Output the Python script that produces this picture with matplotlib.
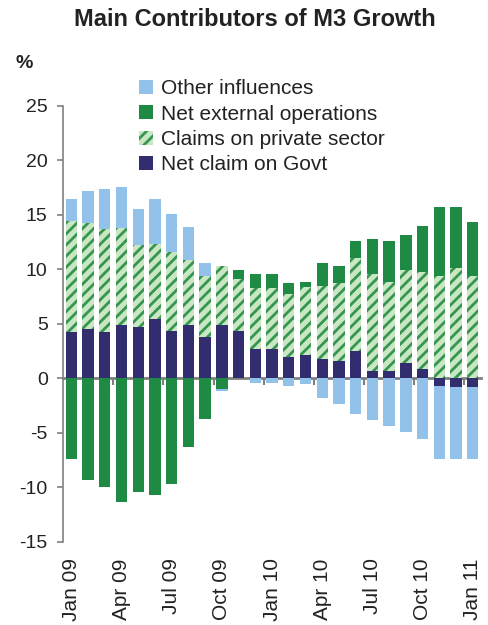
import numpy as np
import matplotlib
matplotlib.use("Agg")
import matplotlib.pyplot as plt

plt.rcParams['font.family'] = ['Liberation Sans', 'DejaVu Sans']
plt.rcParams['hatch.linewidth'] = 2.0
plt.rcParams['axes.unicode_minus'] = False

# monthly data, Jan 09 .. Jan 11 (percentage points)
months = ["Jan 09", "Feb 09", "Mar 09", "Apr 09", "May 09", "Jun 09", "Jul 09",
          "Aug 09", "Sep 09", "Oct 09", "Nov 09", "Dec 09", "Jan 10", "Feb 10",
          "Mar 10", "Apr 10", "May 10", "Jun 10", "Jul 10", "Aug 10", "Sep 10",
          "Oct 10", "Nov 10", "Dec 10", "Jan 11"]
govt = [4.2, 4.5, 4.2, 4.9, 4.7, 5.45, 4.35, 4.9, 3.8, 4.9, 4.35, 2.7, 2.7,
        1.95, 2.15, 1.8, 1.6, 2.5, 0.67, 0.67, 1.4, 0.85, -0.7, -0.77, -0.85]
private = [10.2, 9.7, 9.45, 8.9, 7.5, 6.9, 7.25, 5.95, 5.6, 5.4, 4.75, 5.6, 5.6,
           5.75, 6.25, 6.65, 7.15, 8.55, 8.9, 8.16, 8.54, 8.9, 9.39, 10.1, 9.39]
external = [-7.4, -9.3, -10.0, -11.4, -10.4, -10.7, -9.7, -6.3, -3.7, -1.0, 0.8,
            1.25, 1.25, 1.05, 0.45, 2.15, 1.55, 1.55, 3.23, 3.77, 3.2, 4.2, 6.3,
            5.6, 4.95]
other = [2.05, 3.0, 3.75, 3.75, 3.3, 4.1, 3.5, 3.05, 1.2, -0.2, 0.0, -0.4, -0.4,
         -0.75, -0.5, -1.85, -2.33, -3.33, -3.8, -4.4, -4.9, -5.6, -6.7, -6.68,
         -6.55]
label_months = months[::3]

series = [
    ("Net claim on Govt", govt, dict(color="#322d6f")),
    ("Claims on private sector", private,
     dict(facecolor="#c9e7c4", edgecolor="#36964f", hatch="///", linewidth=0)),
    ("Net external operations", external, dict(color="#1f8a44")),
    ("Other influences", other, dict(color="#92c1ea")),
]

fig = plt.figure(figsize=(4.88, 6.25), dpi=100)
ax = fig.add_axes([0.129, 0.1333, 0.857, 0.6976])

x = np.arange(len(months))
pos_bottom = np.zeros(len(x))
neg_bottom = np.zeros(len(x))
handles = []
for name, vals, style in series:
    vals = np.array(vals)
    bottom = np.where(vals >= 0, pos_bottom, neg_bottom)
    h = ax.bar(x, vals, 0.68, bottom=bottom, label=name, zorder=2, **style)
    handles.append(h)
    pos_bottom += np.where(vals > 0, vals, 0)
    neg_bottom += np.where(vals < 0, vals, 0)

ax.set_xlim(-0.5, len(x) - 0.5)
ax.set_ylim(-15, 25)
ax.set_yticks(np.arange(-15, 26, 5))

for s in ["top", "right", "bottom"]:
    ax.spines[s].set_visible(False)
ax.spines["left"].set_color("#808080")
ax.spines["left"].set_linewidth(1.2)
ax.tick_params(axis="y", length=4, width=1.2, color="#808080", pad=7,
               labelsize=14, labelcolor="#222222")

ax.set_xticks(x[::3])
ax.set_xticklabels(label_months, rotation=90)
ax.tick_params(axis="x", length=0, pad=12, labelsize=15, labelcolor="#222222")

# category axis crossing at zero, tick marks between quarters
zero_ax = ax.secondary_xaxis(15 / 40)
zero_ax.spines["bottom"].set_color("#808080")
zero_ax.spines["bottom"].set_linewidth(2)
zero_ax.spines["bottom"].set_zorder(3)
zero_ax.set_xticks(np.arange(2.5, len(x), 3))
zero_ax.set_xticklabels([])
zero_ax.tick_params(length=5, width=1.5, color="#808080", direction="out")

fig.text(0.522, 0.969, "Main Contributors of M3 Growth", ha="center", va="center",
         fontsize=17, fontweight="bold", color="#222222")
fig.text(0.05, 0.898, "%", ha="center", va="center", fontsize=14,
         fontweight="bold", color="#222222")

ax.legend(handles[::-1], [s[0] for s in series][::-1], loc="upper left",
          bbox_to_anchor=(0.284, 0.873), bbox_transform=fig.transFigure,
          frameon=False, fontsize=15, handlelength=0.67, handleheight=0.65,
          handletextpad=0.4, labelspacing=0.3, borderpad=0, borderaxespad=0,
          labelcolor="#222222")

fig.savefig("out.png", dpi=100)
